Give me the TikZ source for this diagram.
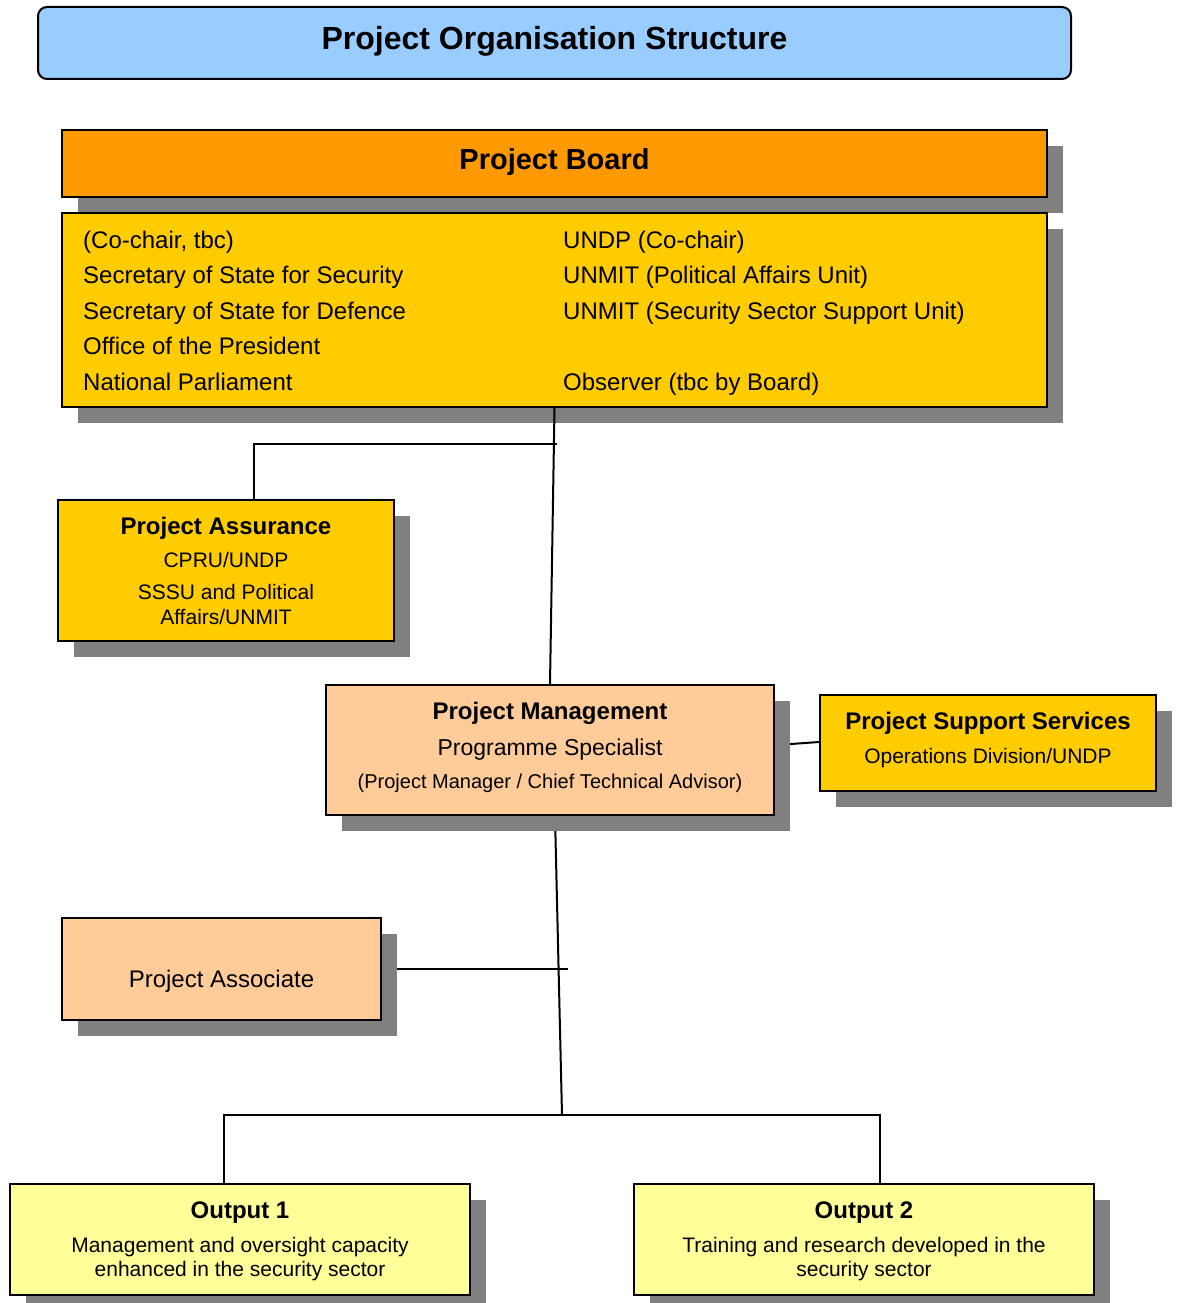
\documentclass[tikz,border=0pt]{standalone}
\usepackage{fontspec}
\setmainfont{Liberation Sans}
\usetikzlibrary{shadows,backgrounds}
\definecolor{titleblue}{HTML}{99CCFF}
\definecolor{boardorange}{HTML}{FF9900}
\definecolor{gold}{HTML}{FFCC00}
\definecolor{peach}{HTML}{FFCC99}
\definecolor{paleyellow}{HTML}{FFFF99}
\definecolor{shadowgray}{HTML}{808080}
\tikzset{
  box/.style={draw=black, line width=2pt, rectangle, inner sep=0pt},
  shad/.style={drop shadow={shadow xshift=16pt, shadow yshift=-16pt, fill=shadowgray, opacity=1}},
  txt/.style={inner sep=0pt, yshift=-5.5pt, text height=0.716em, text depth=0pt, font=\fontsize{24}{28}\selectfont},
  btxt/.style={txt, font=\fontsize{24}{28}\selectfont\bfseries},
  stxt/.style={txt, font=\fontsize{21}{25}\selectfont},
  conn/.style={draw=black, line width=2pt},
}
\begin{document}
\begin{tikzpicture}[x=1pt,y=-1pt]
\useasboundingbox (0,0) rectangle (1176,1303);

% title
\node[box, fill=titleblue, rounded corners=9pt, minimum width=1033pt, minimum height=72pt] (title) at (554.5,43) {};
\node[btxt, font=\fontsize{32}{36}\selectfont\bfseries] (titletext) at (554.5,40) {Project Organisation Structure};

% project board
\node[box, shad, fill=boardorange, minimum width=985pt, minimum height=67pt] (boardhead) at (554.5,163.5) {};
\node[btxt, font=\fontsize{29}{33}\selectfont\bfseries] (boardtitle) at (554.5,160) {Project Board};
\node[box, shad, fill=gold, minimum width=985pt, minimum height=194pt] (board) at (554.5,310) {};
\node[txt, anchor=west] (bl1) at (83,239) {(Co-chair, tbc)};
\node[txt, anchor=west] (bl2) at (83,274) {Secretary of State for Security};
\node[txt, anchor=west] (bl3) at (83,310) {Secretary of State for Defence};
\node[txt, anchor=west] (bl4) at (83,345) {Office of the President};
\node[txt, anchor=west] (bl5) at (83,381) {National Parliament};
\node[txt, anchor=west] (br1) at (563,239) {UNDP (Co-chair)};
\node[txt, anchor=west] (br2) at (563,274) {UNMIT (Political Affairs Unit)};
\node[txt, anchor=west] (br3) at (563,310) {UNMIT (Security Sector Support Unit)};
\node[txt, anchor=west] (br5) at (563,381) {Observer (tbc by Board)};

% project assurance
\node[box, shad, fill=gold, minimum width=336pt, minimum height=141pt] (pa) at (226,570.5) {};
\node[btxt] (pa1) at (226,525) {Project Assurance};
\node[stxt] (pa2) at (226,558) {CPRU/UNDP};
\node[stxt] (pa3) at (226,590) {SSSU and Political};
\node[stxt] (pa4) at (226,615) {Affairs/UNMIT};

% project management
\node[box, shad, fill=peach, minimum width=448pt, minimum height=130pt] (pm) at (550,750) {};
\node[btxt] (pm1) at (550,710) {Project Management};
\node[txt, font=\fontsize{23}{27}\selectfont] (pm2) at (550,746) {Programme Specialist};
\node[txt, font=\fontsize{20}{24}\selectfont] (pm3) at (550,779) {(Project Manager / Chief Technical Advisor)};

% project support services
\node[box, shad, fill=gold, minimum width=336pt, minimum height=96pt] (pss) at (988,743) {};
\node[btxt] (pss1) at (988,720) {Project Support Services};
\node[stxt] (pss2) at (988,754) {Operations Division/UNDP};

% project associate
\node[box, shad, fill=peach, minimum width=319pt, minimum height=102pt] (assoc) at (221.5,969) {};
\node[txt] (assoc1) at (221.5,978) {Project Associate};

% outputs
\node[box, shad, fill=paleyellow, minimum width=460pt, minimum height=111pt] (o1) at (240,1239.5) {};
\node[btxt] (o1a) at (240,1209) {Output 1};
\node[stxt] (o1b) at (240,1243) {Management and oversight capacity};
\node[stxt] (o1c) at (240,1267) {enhanced in the security sector};
\node[box, shad, fill=paleyellow, minimum width=460pt, minimum height=111pt] (o2) at (864,1239.5) {};
\node[btxt] (o2a) at (864,1209) {Output 2};
\node[stxt] (o2b) at (864,1243) {Training and research developed in the};
\node[stxt] (o2c) at (864,1267) {security sector};

% connectors
\coordinate (jpa) at (557,444);
\coordinate (jassoc) at (568,969);
\coordinate (jout) at (562,1115);
\coordinate (jpm) at (791,744);
\begin{pgfonlayer}{background}
  \fill[white] (0,0) rectangle (1176,1303);
  \draw[conn] (jpa) -| ([xshift=28pt]pa.north);
  \draw[conn] ([xshift=5pt]pm.south) -- (jout);
  \draw[conn] (assoc.east) -- (jassoc);
  \draw[conn] (pm.east |- jpm) -- (jpm) -- ([yshift=1pt]pss.west);
  \draw[conn] ([xshift=-16pt]o1.north) |- (jout) -| ([xshift=16pt]o2.north);
\end{pgfonlayer}
\draw[conn] (board.south) -- (pm.north);
\end{tikzpicture}
\end{document}
